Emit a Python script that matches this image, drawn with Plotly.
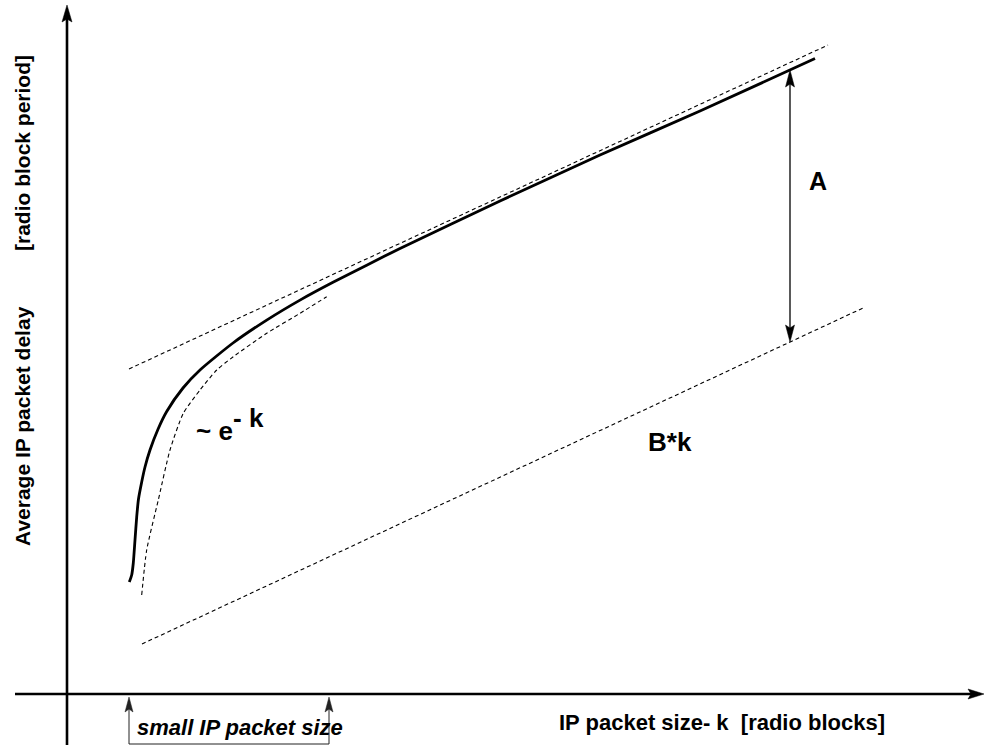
import numpy as np
import plotly.graph_objects as go

# Schematic delay model: k = IP packet size [radio blocks], delay in radio block periods
# (arbitrary schematic units; one unit = one screen pixel, axes cross at 0, 0)

# measured average delay curve
delay_k = [62.3, 64.7, 66.3, 68, 69.7, 71.5, 74.7, 78, 83, 91, 99.7, 116, 133, 166,
           199.7, 233, 266, 299.7, 333, 433, 533, 633, 748]
delay_val = [112, 119, 131, 154, 177, 195, 212, 227, 244, 264.8, 282.5, 306, 324, 351,
             373.9, 393.9, 411.7, 428.8, 445.5, 493, 539, 583, 635.4]

# ~ e^-k approximation for small packets
approx_k = [74.7, 79.7, 91.3, 103, 116.3, 133, 149.7, 166.3, 199.7, 233, 259.7]
approx_val = [99, 144, 194, 244, 280.7, 304, 324, 337.3, 360.7, 380.7, 397.3]

# asymptote A + B*k for large packets
asym_k = [62, 761]
asym_val = [325, 649]

# linear term B*k
lin_k = [75, 796]
lin_val = [50, 386]

# position of the offset marker A and the "small IP packet size" range
a_marker_k = 723
small_range_k = [62, 262]

FONT = "Liberation Sans, Arial, sans-serif"
DASH = dict(color="black", width=1.1, dash="4px,3px")

fig = go.Figure()

fig.add_trace(go.Scatter(x=asym_k, y=asym_val, mode="lines", line=DASH))
fig.add_trace(go.Scatter(x=lin_k, y=lin_val, mode="lines", line=DASH))
fig.add_trace(go.Scatter(x=approx_k, y=approx_val, mode="lines",
                         line=dict(DASH, shape="spline", smoothing=0.6)))
fig.add_trace(go.Scatter(x=delay_k, y=delay_val, mode="lines",
                         line=dict(color="black", width=2.8, shape="spline", smoothing=0.6)))

x_min, x_max = -67, 918
y_min, y_max = -51, 694

shapes = []


def arrow_line(x0, y0, x1, y1, width, color="black", heads=("end",), L=16, W=9, notch=3):
    """Straight line from (x0, y0) to (x1, y1) with filled arrowheads."""
    length = np.hypot(x1 - x0, y1 - y0)
    ux, uy = (x1 - x0) / length, (y1 - y0) / length
    sx, sy, ex, ey = x0, y0, x1, y1
    tips = []
    if "end" in heads:
        tips.append((x1, y1, ux, uy))
        ex, ey = x1 - ux * (L - notch), y1 - uy * (L - notch)
    if "start" in heads:
        tips.append((x0, y0, -ux, -uy))
        sx, sy = x0 + ux * (L - notch), y0 + uy * (L - notch)
    shapes.append(dict(type="line", xref="x", yref="y", x0=sx, y0=sy, x1=ex, y1=ey,
                       line=dict(color=color, width=width)))
    for tx, ty, dx, dy in tips:
        bx, by = tx - dx * L, ty - dy * L
        nx, ny = -dy, dx
        pts = [(tx, ty), (bx + nx * W / 2, by + ny * W / 2),
               (tx - dx * (L - notch), ty - dy * (L - notch)),
               (bx - nx * W / 2, by - ny * W / 2)]
        path = "M" + " L".join(f"{px:.2f},{py:.2f}" for px, py in pts) + " Z"
        shapes.append(dict(type="path", xref="x", yref="y", path=path,
                           fillcolor=color, line=dict(color=color, width=0.5)))


# axes with arrow tips
arrow_line(0, y_min, 0, y_max - 5, 2.6, L=17, W=10)
arrow_line(-52, 0, x_max - 1, 0, 2.4, L=16, W=10)

# double arrow for A between the delay curve and B*k
a_top = float(np.interp(a_marker_k, delay_k, delay_val))
a_bot = float(np.interp(a_marker_k, lin_k, lin_val))
arrow_line(a_marker_k, a_bot, a_marker_k, a_top, 1.3, heads=("start", "end"), L=17, W=9)

# bracket marking the small packet size range
bracket_bottom = -50
for k in small_range_k:
    arrow_line(k, bracket_bottom, k, -3, 1, color="#222", L=15, W=8)
shapes.append(dict(type="line", xref="x", yref="y", x0=small_range_k[0], x1=small_range_k[1],
                   y0=bracket_bottom, y1=bracket_bottom, line=dict(color="#222", width=1)))

annotations = []


def label(x, y, text, size, xanchor="center", angle=0):
    annotations.append(dict(x=x, y=y, xref="x", yref="y", text=text, showarrow=False,
                            xanchor=xanchor, yanchor="middle", textangle=angle,
                            font=dict(family=FONT, size=size, color="black")))


label(655, -28, "<b>IP packet size- k&nbsp;&nbsp;[radio blocks]</b>", 22)
label(68, -33, "<b><i>small IP packet size</i></b>", 22, xanchor="left")
label(-45, 268, "<b>Average IP packet delay</b>", 21, angle=-90)
label(-45, 541, "<b>[radio block period]</b>", 21, angle=-90)
label(751, 513, "<b>A</b>", 25)
label(603, 252, "<b>B*k</b>", 26)
label(168, 263, "<b>~ e</b>", 26, xanchor="right")
label(164, 276, "<b>- k</b>", 26, xanchor="left")

fig.update_layout(
    width=985, height=745,
    margin=dict(l=0, r=0, t=0, b=0),
    paper_bgcolor="white", plot_bgcolor="white",
    showlegend=False,
    xaxis=dict(range=[x_min, x_max], visible=False, fixedrange=True),
    yaxis=dict(range=[y_min, y_max], visible=False, fixedrange=True),
    shapes=shapes,
    annotations=annotations,
)

fig.write_html("out.html")
